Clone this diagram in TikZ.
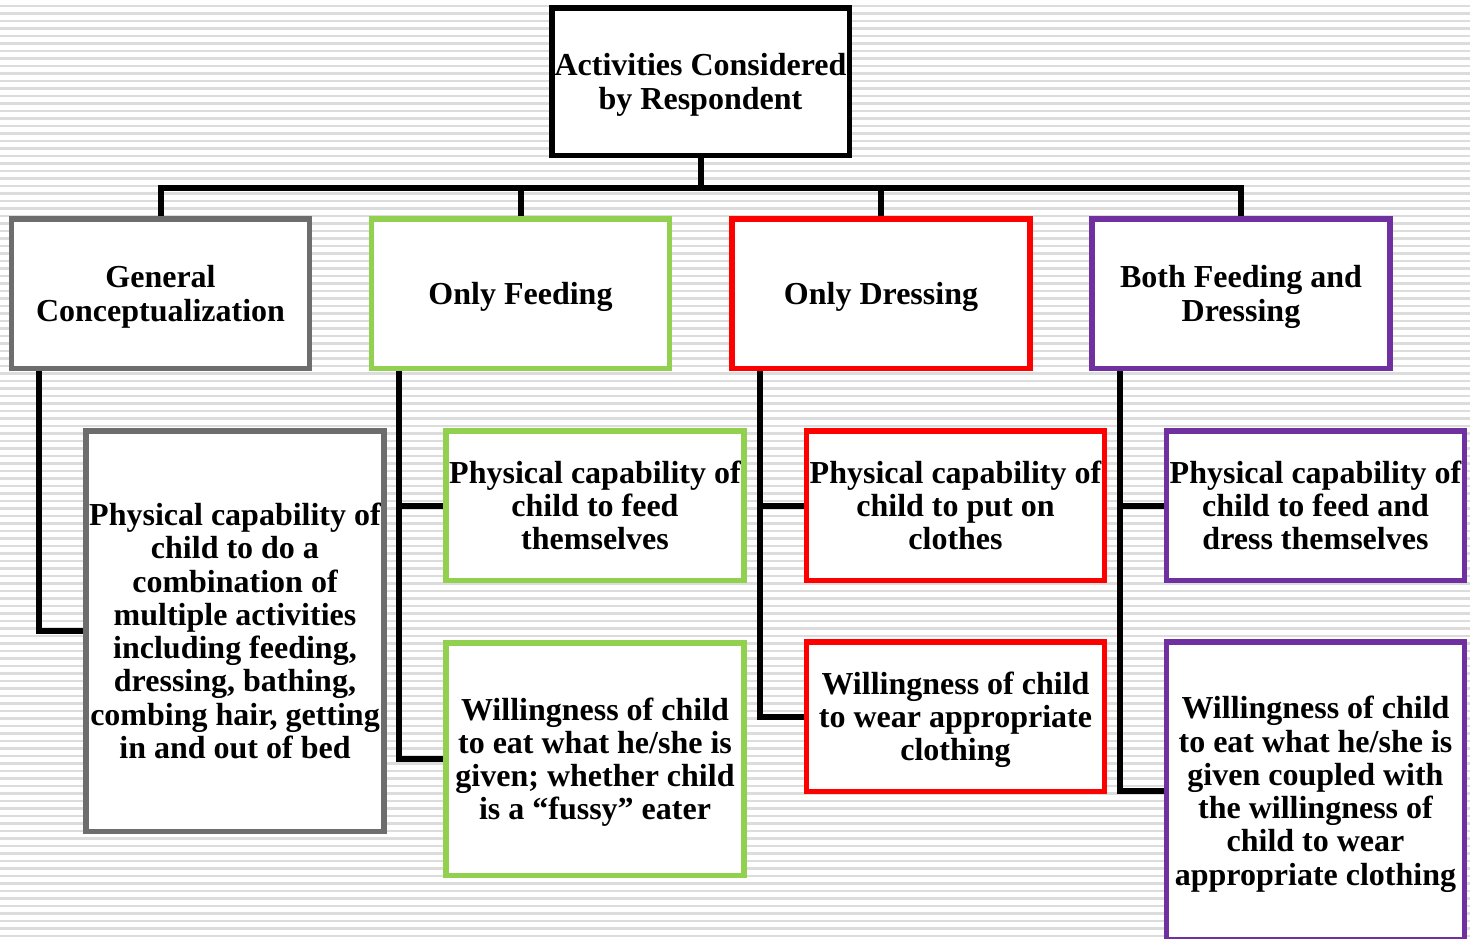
\documentclass[tikz,border=0pt]{standalone}
\usepackage{fontspec}
\setmainfont{Liberation Serif}
\definecolor{stripe}{HTML}{DCDCDC}
\definecolor{cgray}{HTML}{6D6D6D}
\definecolor{cgreen}{HTML}{92D050}
\definecolor{cred}{HTML}{FF0000}
\definecolor{cpurple}{HTML}{7030A0}
\newcommand\mytstrut{\rule{0pt}{29pt}}
\newcommand\mybstrut{\rule[-7pt]{0pt}{7pt}}
\begin{document}
\begin{tikzpicture}[x=1pt,y=-1pt,
  box/.style={draw, line width=5.5pt, fill=white, inner sep=0pt, align=center,
    font=\fontsize{32}{33.3}\selectfont\bfseries, minimum width=298pt},
  conn/.style={draw=black, line width=6pt}]
\useasboundingbox (0,0) rectangle (1470,938);
\clip (0,0) rectangle (1470,938);
\fill[white] (0,0) rectangle (1470,938);
\foreach \i in {0,...,124} {
  \fill[stripe] (0,{4.7+7.5*\i}) rectangle (1470,{7.4+7.5*\i});
}
\coordinate (busc) at (700.5,187.5);
% top
\node[box, draw=black, minimum width=297.5pt, minimum height=147.5pt] (top) at (700.5,81.5) {\mytstrut Activities Considered\\by Respondent\mybstrut};
% level 2
\node[box, draw=cgray, minimum height=149.5pt] (gen) at (160.5,293.5) {\mytstrut General\\Conceptualization\mybstrut};
\node[box, draw=cgreen, minimum height=149.5pt] (feed) at (520.5,293.5) {\mytstrut Only Feeding\mybstrut};
\node[box, draw=cred, minimum height=149.5pt] (dress) at (881,293.5) {\mytstrut Only Dressing\mybstrut};
\node[box, draw=cpurple, minimum height=149.5pt] (both) at (1241,293.5) {\mytstrut Both Feeding and\\Dressing\mybstrut};
% children
\node[box, draw=cgray, minimum height=400.5pt] (g1) at (235,631) {\mytstrut Physical capability of\\child to do a\\combination of\\multiple activities\\including feeding,\\dressing, bathing,\\combing hair, getting\\in and out of bed\mybstrut};
\node[box, draw=cgreen, minimum height=149.5pt] (f1) at (595,505.5) {\mytstrut Physical capability of\\child to feed\\themselves\mybstrut};
\node[box, draw=cgreen, minimum height=232.5pt] (f2) at (595,759) {\mytstrut Willingness of child\\to eat what he/she is\\given; whether child\\is a “fussy” eater\mybstrut};
\node[box, draw=cred, minimum height=149.5pt] (d1) at (955.5,505.5) {\mytstrut Physical capability of\\child to put on\\clothes\mybstrut};
\node[box, draw=cred, minimum height=149.5pt] (d2) at (955.5,716.5) {\mytstrut Willingness of child\\to wear appropriate\\clothing\mybstrut};
\node[box, draw=cpurple, minimum height=149.5pt] (b1) at (1315.5,505.5) {\mytstrut Physical capability of\\child to feed and\\dress themselves\mybstrut};
\node[box, draw=cpurple, minimum height=298pt] (b2) at (1315.5,791) {\mytstrut Willingness of child\\to eat what he/she is\\given coupled with\\the willingness of\\child to wear\\appropriate clothing\mybstrut};
% connectors
\draw[conn] (top.south) -- (top.south |- busc) coordinate (bus);
\draw[conn] ([xshift=-3pt]bus -| gen.north) -- ([xshift=3pt]bus -| both.north);
\foreach \n in {gen,feed,dress,both} {
  \draw[conn] (bus -| \n.north) -- (\n.north);
}
\draw[conn] ([xshift=30.5pt]gen.south west) |- (g1.west);
\draw[conn] ([xshift=30.5pt]feed.south west) |- (f2.west);
\draw[conn] (f1.west) -- ([xshift=30.5pt]feed.south west |- f1.west);
\draw[conn] ([xshift=30.5pt]dress.south west) |- (d2.west);
\draw[conn] (d1.west) -- ([xshift=30.5pt]dress.south west |- d1.west);
\draw[conn] ([xshift=30.5pt]both.south west) |- (b2.west);
\draw[conn] (b1.west) -- ([xshift=30.5pt]both.south west |- b1.west);
\end{tikzpicture}
\end{document}
